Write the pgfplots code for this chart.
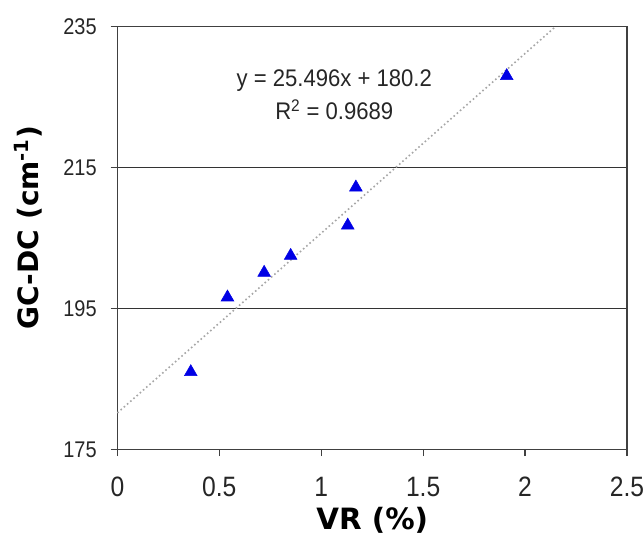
\documentclass[border=0pt]{standalone}
\usepackage{pgfplots}
\pgfplotsset{compat=1.18}
\usepackage{fontspec}
\setmainfont{Liberation Sans}
\newfontfamily\narrowfont[FakeStretch=0.88]{Liberation Sans}
\newfontfamily\eqfont[FakeStretch=0.92]{Liberation Sans}
\newfontfamily\labelfont{DejaVu Sans}
\begin{document}
\begin{tikzpicture}
\useasboundingbox (-88pt,-67pt) rectangle (394pt,337pt);
\begin{axis}[
  scale only axis, width=382pt, height=317pt,
  xmin=0, xmax=2.5, ymin=175, ymax=235,
  xtick={0,0.5,1,1.5,2,2.5},
  ytick={175,195,215,235},
  xticklabels={0,0.5,1,1.5,2,2.5},
  yticklabels={175,195,215,235},
  xticklabel style={font=\narrowfont\fontsize{21}{23}\selectfont, text=black!85, yshift=-12pt},
  yticklabel style={font=\narrowfont\fontsize{17}{19}\selectfont, text=black!85, xshift=-7pt},
  tick align=outside, tick pos=left,
  major tick length=5pt,
  axis line style={black!75, line width=0.9pt},
  tick style={black!75, line width=0.9pt},
  ymajorgrids, grid style={black!80, line width=0.9pt},
  xlabel={\textbf{VR (\%)}},
  ylabel={\textbf{GC-DC (cm\textsuperscript{-1})}},
  xlabel style={font=\labelfont\fontsize{22}{24}\selectfont, at={(axis description cs:0.5,0)}, anchor=north, yshift=-40pt},
  ylabel style={font=\labelfont\fontsize{21}{23}\selectfont, at={(axis description cs:0,0.525)}, anchor=south, yshift=53pt},
  clip=false,
]
\addplot[gray!70, dotted, line width=1.2pt] coordinates {(0,180.2) (2.149,235)};
\addplot[only marks, mark=triangle*, mark size=5.5pt, color=blue!90!black] coordinates {
  (0.36,186.0) (0.54,196.6) (0.72,200.1) (0.85,202.5) (1.13,206.8) (1.17,212.2) (1.91,228.0)
};
\node[font=\eqfont\fontsize{18}{22}\selectfont, align=center, text=black!85] at (axis cs:1.064,225.35) {y = 25.496x + 180.2\\[3pt] R\textsuperscript{2} = 0.9689};
\end{axis}
\end{tikzpicture}
\end{document}
